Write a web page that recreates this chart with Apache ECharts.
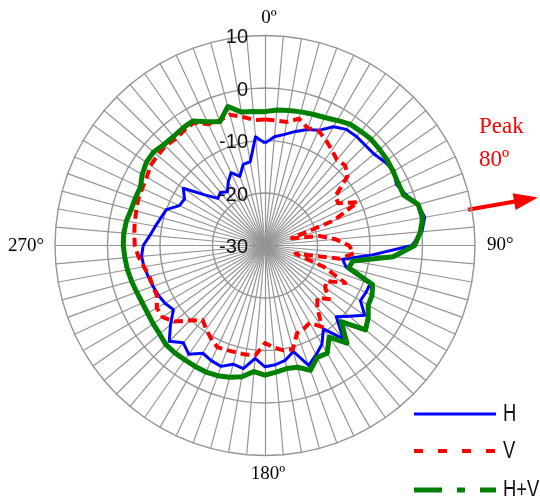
<!DOCTYPE html>
<html><head><meta charset="utf-8">
<script src="https://cdn.jsdelivr.net/npm/echarts@6/dist/echarts.min.js"></script>
<style>html,body{margin:0;padding:0;background:#fff}#c{width:540px;height:496px}</style>
</head><body><div id="c"></div>
<script>
// ---- data ----
const angleDeg = [0,5,10,15,20,25,30,35,40,45,50,55,60,65,70,75,80,85,90,95,100,105,110,115,120,125,130,135,140,145,150,155,160,165,170,175,180,185,190,195,200,205,210,215,220,225,230,235,240,245,250,255,260,265,270,275,280,285,290,295,300,305,310,315,320,325,330,335,340,345,350,355];
const hValues = [-10.5,-9.2,-8.5,-7.5,-6.5,-5.8,-3.9,-3.0,-2.9,-3.0,-2.9,-2.2,-1.6,-2.4,-1.5,0.2,0.9,0.0,-2.0,-9.5,-15,-14,-8.7,-8.8,-9,-6.8,-9,-10.8,-6.8,-10.6,-8.3,-7,-5.7,-9.1,-7.8,-7.2,-6.9,-8.4,-6.2,-6.6,-5.5,-5.8,-6.3,-4.7,-5.8,-4.2,-6.5,-8.7,-8.0,-7.6,-7.3,-7.0,-6.6,-6.4,-6.8,-8,-8.8,-9.5,-10,-12,-12.3,-11,-15,-17.3,-16.8,-17.5,-16,-14.7,-16,-14,-13.8,-9.2];
const vValues = [-6.0,-6.1,-6.1,-5.0,-6.2,-5.9,-6.8,-7.8,-8.7,-8.4,-9.5,-13.6,-13.9,-10.5,-16,-24.7,-19.5,-16.5,-14,-13,-15.5,-24,-18,-13.1,-16.5,-16,-14.1,-15.9,-14.5,-11.1,-13,-12.5,-12.2,-9.5,-9.7,-10.5,-11.4,-9,-8.9,-8.9,-8.8,-8.6,-9.5,-10.5,-11.5,-9.8,-7.5,-6.2,-6.2,-7.3,-7.3,-7.2,-6.6,-5.8,-5.2,-5,-4.8,-4.6,-4.3,-4.2,-4.0,-3.4,-3.3,-3.2,-3.5,-3.2,-3.0,-4.5,-4.7,-4.2,-5.1,-6];
const hvValues = [-4.5,-4.1,-3.9,-3.65,-3.4,-3.1,-2.5,-1.8,-1.6,-1.4,-1.5,-1.6,-1.8,-2.0,-1.9,0.2,0.5,-0.3,-1.5,-5.5,-13,-13.5,-8.2,-7.5,-7.3,-6,-5,-9.5,-5.7,-8.7,-6.3,-6.5,-4.7,-6.0,-6.2,-5.8,-5.3,-5.9,-4.6,-4.0,-3.6,-3.4,-3.4,-3.4,-3.3,-3.3,-3.8,-4.0,-4.2,-4.2,-4.0,-3.7,-3.4,-3.2,-3.0,-3.0,-3.2,-3.6,-3.7,-3.8,-3.0,-2.4,-2.3,-2.8,-2.9,-2.7,-2.6,-4.0,-4.9,-2.6,-4.2,-4.4];
const radiusTicks = [-30,-20,-10,0,10];
const angleLabels = ['0º','90°','180º','270°'];
const seriesNames = ['H','V','H+V'];
const peakText = ['Peak','80º'];
const peakAngle = 80;

// ---- layout ----
const CX = 265, CY = 245.5, R = 210;
const RMIN = -30, RMAX = 10;
const colors = ['#0000ff','#ff0000','#008000'];

// clockwise ordering: radar places indicators counter-clockwise, so reverse
const order = [0];
for (let i = angleDeg.length - 1; i >= 1; i--) order.push(i);
const indicator = order.map(i => ({ name: String(angleDeg[i]), min: RMIN, max: RMAX }));
const pick = arr => order.map(i => arr[i]);

const chart = echarts.init(document.getElementById('c'), null, { renderer: 'canvas' });

const graphic = [];
// radius tick labels
radiusTicks.forEach(v => {
  graphic.push({ type: 'text', x: 248, y: CY - (v - RMIN) / (RMAX - RMIN) * R + 2, z: 50,
    style: { text: String(v), font: '20px "Liberation Sans", Arial, sans-serif', fill: '#111',
      textAlign: 'right', textVerticalAlign: 'middle' } });
});
// angle labels
const angPos = [[269, 18, 'center'], [487, 245, 'left'], [268, 474, 'center'], [8, 246, 'left']];
angleLabels.forEach((t, i) => {
  graphic.push({ type: 'text', x: angPos[i][0], y: angPos[i][1],
    style: { text: t, font: '19px "Liberation Serif", "Times New Roman", serif', fill: '#000',
      textAlign: angPos[i][2], textVerticalAlign: 'middle' } });
});
// Peak annotation
graphic.push({ type: 'text', x: 479, y: 127, style: { text: peakText[0], font: '23px "Liberation Serif", serif', fill: '#ff0000', textVerticalAlign: 'middle' } });
graphic.push({ type: 'text', x: 479, y: 160, style: { text: peakText[1], font: '23px "Liberation Serif", serif', fill: '#ff0000', textVerticalAlign: 'middle' } });
const a = peakAngle * Math.PI / 180;
const ux = Math.sin(a), uy = -Math.cos(a);
const px = r => CX + ux * r, py = r => CY + uy * r;
const nx = -uy, ny = ux;
graphic.push({ type: 'line', shape: { x1: px(206), y1: py(206), x2: px(258), y2: py(258) }, style: { stroke: '#ff0000', lineWidth: 4 } });
graphic.push({ type: 'polygon', shape: { points: [[px(277), py(277)], [px(253) + nx * 8.5, py(253) + ny * 8.5], [px(253) - nx * 8.5, py(253) - ny * 8.5]] }, style: { fill: '#ff0000' } });
// legend
const legY = [414, 451, 490];
const legDash = [null, [9, 15], [28, 15, 8, 15]];
const legW = [3, 4, 5];
seriesNames.forEach((n, i) => {
  graphic.push({ type: 'line', shape: { x1: 414, y1: legY[i], x2: 496, y2: legY[i] },
    style: { stroke: colors[i], lineWidth: legW[i], lineDash: legDash[i] } });
  graphic.push({ type: 'text', x: 503, y: legY[i] + 1, scaleX: 0.8,
    style: { text: n, font: '23px "Liberation Sans", Arial, sans-serif', fill: '#111', textVerticalAlign: 'middle' } });
});

const lineStyles = [
  { color: colors[0], width: 3, type: 'solid' },
  { color: colors[1], width: 4, type: [9, 5] },
  { color: colors[2], width: 5, type: 'solid' }
];
const allValues = [hValues, vValues, hvValues];

chart.setOption({
  animation: false,
  backgroundColor: '#fff',
  radar: {
    center: [CX, CY],
    radius: R,
    startAngle: 90,
    shape: 'polygon',
    splitNumber: 4,
    indicator: indicator,
    axisName: { show: false },
    axisLine: { lineStyle: { color: '#959595', width: 1.2 } },
    splitLine: { lineStyle: { color: '#959595', width: 1.4 } },
    splitArea: { show: false },
    axisTick: { show: false },
    axisLabel: { show: false }
  },
  series: seriesNames.map((n, i) => ({
    type: 'radar',
    name: n,
    symbol: 'none',
    z: 2 + i,
    lineStyle: lineStyles[i],
    data: [{ name: n, value: pick(allValues[i]) }]
  })),
  graphic: graphic
});
</script>
</body></html>
